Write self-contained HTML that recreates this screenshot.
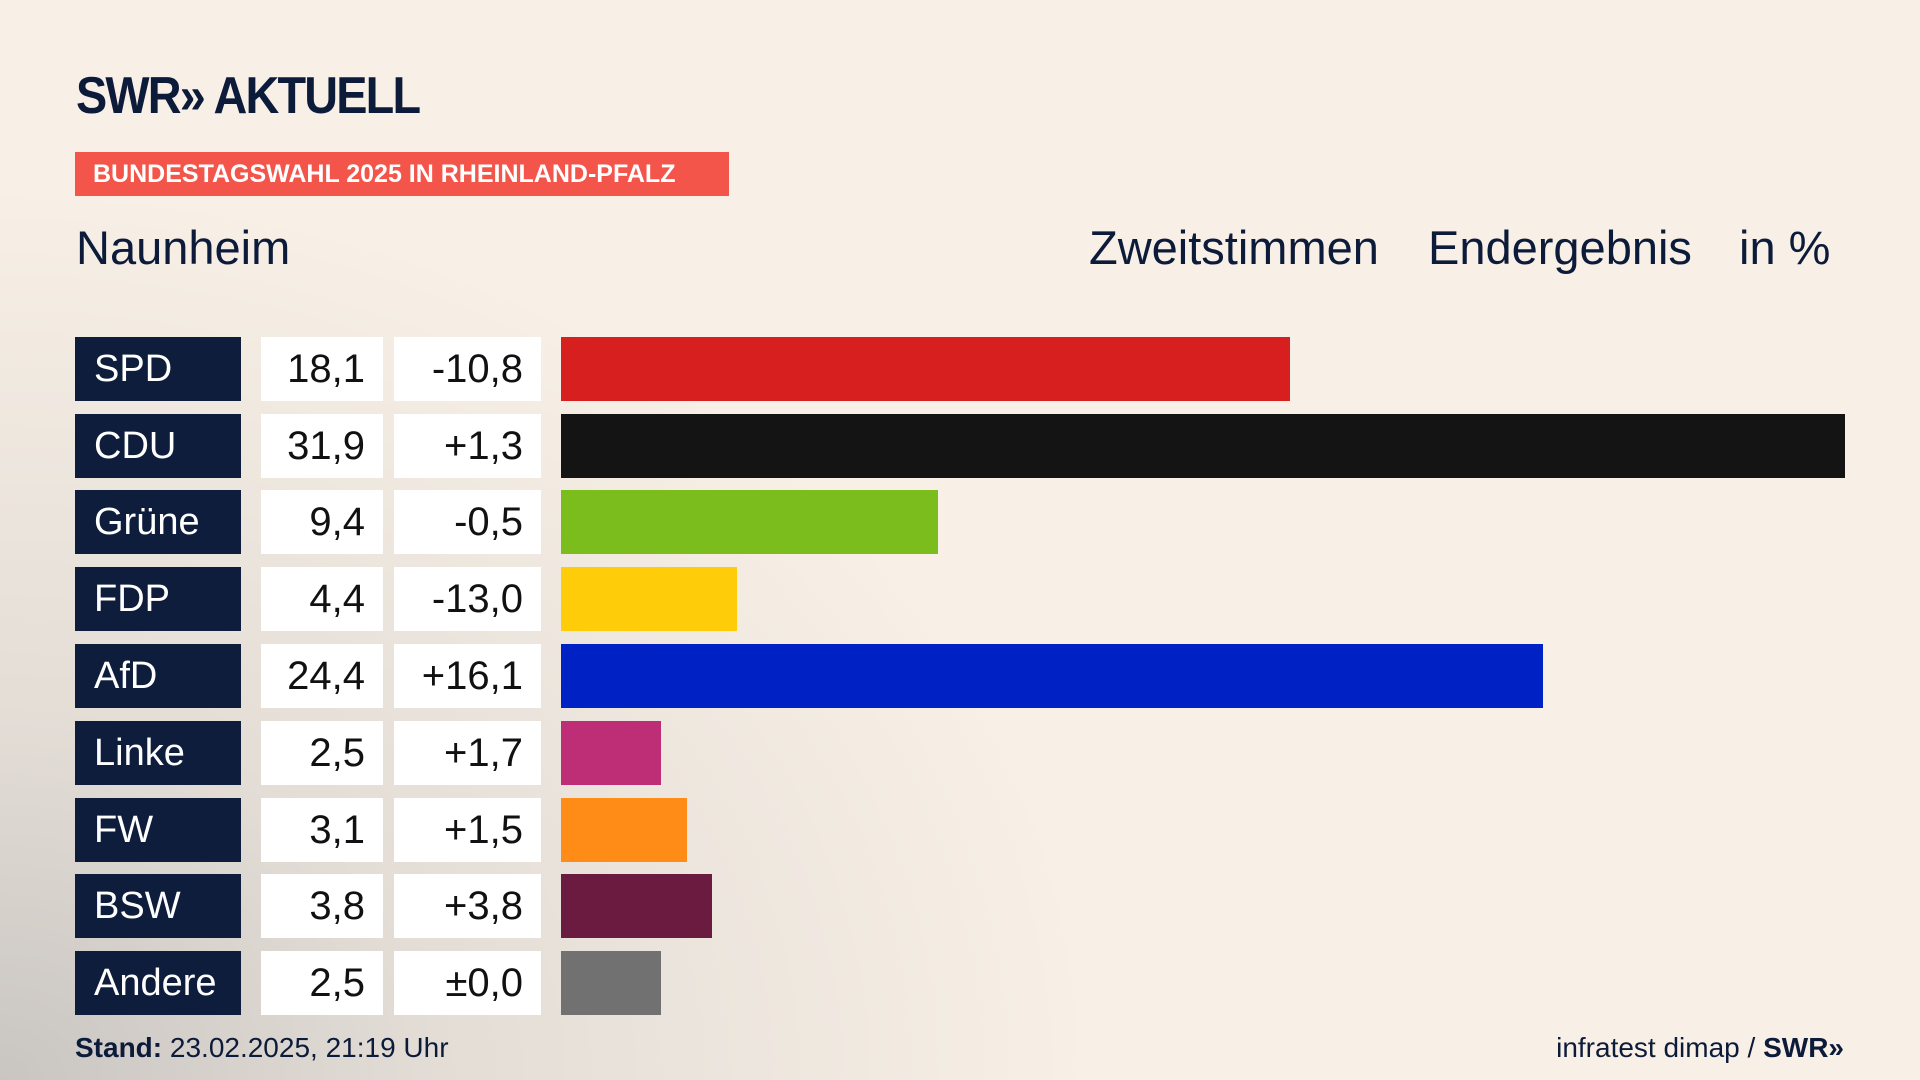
<!DOCTYPE html>
<html><head><meta charset="utf-8"><style>
html,body{margin:0;padding:0}
body{width:1920px;height:1080px;overflow:hidden;position:relative;font-family:"Liberation Sans",sans-serif;
background:radial-gradient(ellipse 1100px 900px at 0px 1080px,#c9c5c1 0%,#e3ddd6 40%,rgba(248,240,230,0) 100%),#f8f0e6;}
.abs{position:absolute}
.logo{left:76px;top:66px;font-size:52px;font-weight:bold;color:#0d1b3a;letter-spacing:-2px;transform:scaleX(0.9);transform-origin:left top}
.banner{left:75px;top:152px;width:654px;height:44px;background:#f4554a;color:#fff;font-weight:bold;font-size:25px;line-height:44px;text-indent:18px}
.h{top:220px;font-size:47px;color:#0d1b3a}
.party{left:75px;width:166px;height:64px;background:#0e1d3c;color:#fff;font-size:38px;line-height:64px;text-indent:19px}
.val{left:261px;width:122px;height:64px;background:#fff;color:#111;font-size:40px;line-height:64px;text-align:right;box-sizing:border-box;padding-right:18px}
.dif{left:394px;width:147px;height:64px;background:#fff;color:#111;font-size:40px;line-height:64px;text-align:right;box-sizing:border-box;padding-right:18px}
.bar{left:561px;height:64px}
.foot{top:1032px;font-size:28px;color:#0d1b3a}
</style></head><body>
<div class="abs logo">SWR» AKTUELL</div>
<div class="abs banner">BUNDESTAGSWAHL 2025 IN RHEINLAND-PFALZ</div>
<div class="abs h" style="left:76px">Naunheim</div>
<div class="abs h" style="left:1089px">Zweitstimmen</div>
<div class="abs h" style="left:1428px">Endergebnis</div>
<div class="abs h" style="left:1739px">in %</div>

<div class="abs party" style="top:337px">SPD</div><div class="abs val" style="top:337px">18,1</div><div class="abs dif" style="top:337px">-10,8</div><div class="abs bar" style="top:337px;width:729px;background:#d81f1f"></div>
<div class="abs party" style="top:414px">CDU</div><div class="abs val" style="top:414px">31,9</div><div class="abs dif" style="top:414px">+1,3</div><div class="abs bar" style="top:414px;width:1284px;background:#141414"></div>
<div class="abs party" style="top:490px">Grüne</div><div class="abs val" style="top:490px">9,4</div><div class="abs dif" style="top:490px">-0,5</div><div class="abs bar" style="top:490px;width:377px;background:#7abd1c"></div>
<div class="abs party" style="top:567px">FDP</div><div class="abs val" style="top:567px">4,4</div><div class="abs dif" style="top:567px">-13,0</div><div class="abs bar" style="top:567px;width:176px;background:#ffcc0a"></div>
<div class="abs party" style="top:644px">AfD</div><div class="abs val" style="top:644px">24,4</div><div class="abs dif" style="top:644px">+16,1</div><div class="abs bar" style="top:644px;width:982px;background:#0022c4"></div>
<div class="abs party" style="top:721px">Linke</div><div class="abs val" style="top:721px">2,5</div><div class="abs dif" style="top:721px">+1,7</div><div class="abs bar" style="top:721px;width:100px;background:#bd2e77"></div>
<div class="abs party" style="top:798px">FW</div><div class="abs val" style="top:798px">3,1</div><div class="abs dif" style="top:798px">+1,5</div><div class="abs bar" style="top:798px;width:126px;background:#ff8c17"></div>
<div class="abs party" style="top:874px">BSW</div><div class="abs val" style="top:874px">3,8</div><div class="abs dif" style="top:874px">+3,8</div><div class="abs bar" style="top:874px;width:151px;background:#6b1a40"></div>
<div class="abs party" style="top:951px">Andere</div><div class="abs val" style="top:951px">2,5</div><div class="abs dif" style="top:951px">±0,0</div><div class="abs bar" style="top:951px;width:100px;background:#717171"></div>

<div class="abs foot" style="left:75px"><b>Stand:</b> 23.02.2025, 21:19 Uhr</div>
<div class="abs foot" style="right:76px">infratest dimap / <b>SWR»</b></div>
</body></html>
